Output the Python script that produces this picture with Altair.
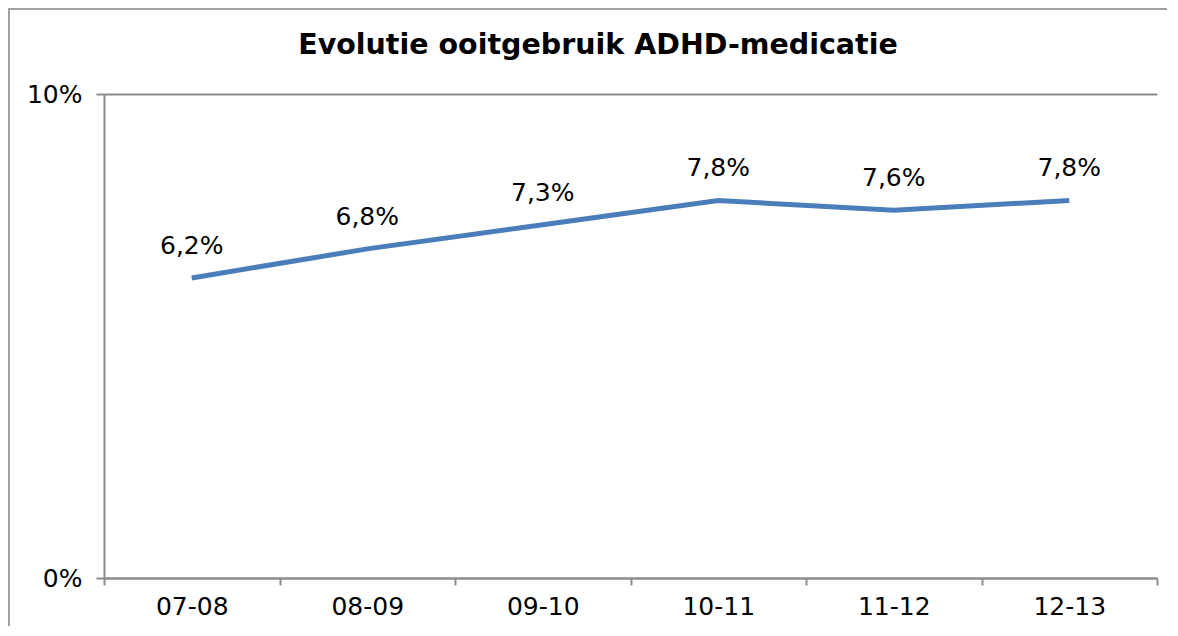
import altair as alt
import pandas as pd

years = ["07-08", "08-09", "09-10", "10-11", "11-12", "12-13"]
values = [0.062, 0.068, 0.073, 0.078, 0.076, 0.078]
labels = [f"{v*100:.1f}%".replace(".", ",") for v in values]
title_text = "Evolutie ooitgebruik ADHD-medicatie"

df = pd.DataFrame({"year": years, "value": values, "label": labels})

FONT = "DejaVu Sans"
W, H = 1053, 484
FS = 25

x_enc = alt.X("year:N", sort=years, bandPosition=0.5,
              scale=alt.Scale(type="band", paddingInner=0, paddingOuter=0),
              axis=alt.Axis(title=None, tickBand="extent", labelAngle=0,
                            labelFont=FONT, labelFontSize=FS, labelColor="#000",
                            labelPadding=9, tickSize=7, tickColor="#8c8c8c",
                            domainColor="#8c8c8c", domainWidth=2, tickWidth=2,
                            grid=False))
y_enc = alt.Y("value:Q", scale=alt.Scale(domain=[0, 0.1], nice=False),
              axis=alt.Axis(title=None, values=[0, 0.1], format=".0%",
                            labelFont=FONT, labelFontSize=FS, labelColor="#000",
                            labelPadding=14, tickSize=8, tickColor="#8c8c8c",
                            tickWidth=2, domainColor="#8c8c8c", domainWidth=2,
                            grid=True, gridColor="#8c8c8c", gridWidth=2))

line = alt.Chart(df).mark_line(color="#4a7ebb", strokeWidth=5).encode(x=x_enc, y=y_enc)
text = alt.Chart(df).mark_text(font=FONT, fontSize=FS, dy=-24, baseline="alphabetic",
                               color="#000").encode(x=x_enc, y=y_enc, text="label:N")

title_df = pd.DataFrame({"t": [title_text]})
title = alt.Chart(title_df).mark_text(font=FONT, fontSize=28.5, fontWeight="bold",
                                      baseline="alphabetic", align="center",
                                      color="#000").encode(
    x=alt.value(494), y=alt.value(-40), text="t:N")

frame_left = alt.Chart(title_df).mark_rule(color="#a0a0a0", strokeWidth=2).encode(
    x=alt.value(-95), y=alt.value(-86), y2=alt.value(H + 60))
frame_top = alt.Chart(title_df).mark_rule(color="#a0a0a0", strokeWidth=2).encode(
    x=alt.value(-96), x2=alt.value(W + 10), y=alt.value(-85))

chart = alt.layer(frame_left, frame_top, line, text, title).properties(
    width=W, height=H,
    autosize=alt.AutoSizeParams(type="none"),
    padding={"left": 96, "top": 86, "right": 10, "bottom": 48},
).configure_view(stroke=None)

chart.save("out.html", embed_options={"renderer": "svg", "actions": False})
